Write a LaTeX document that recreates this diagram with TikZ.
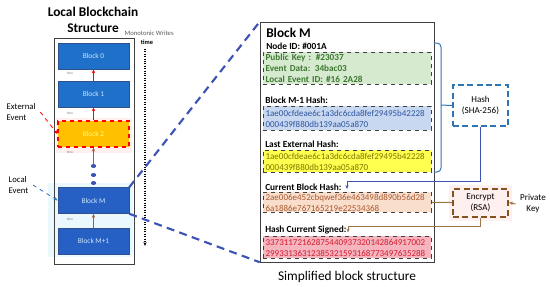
\documentclass[tikz,border=0pt]{standalone}
\usepackage{fontspec}
\setmainfont{Carlito}
\usetikzlibrary{arrows.meta,shapes.geometric}

\definecolor{blockblue}{RGB}{30,112,200}
\definecolor{blockdark}{RGB}{38,96,196}
\definecolor{blockedge}{RGB}{47,82,143}
\definecolor{blocktext}{RGB}{205,232,255}
\definecolor{gold}{RGB}{255,192,0}
\definecolor{linkblue}{RGB}{62,84,180}
\definecolor{hashblue}{RGB}{46,117,182}
\definecolor{rsabrown}{RGB}{133,82,30}
\definecolor{greenfill}{RGB}{214,234,208}
\definecolor{greentext}{RGB}{62,120,50}
\definecolor{bluefill}{RGB}{200,216,240}
\definecolor{bluetext}{RGB}{46,85,160}
\definecolor{yellowfill}{RGB}{255,255,80}
\definecolor{yellowtext}{RGB}{120,120,0}
\definecolor{peachfill}{RGB}{250,222,204}
\definecolor{peachtext}{RGB}{170,90,50}
\definecolor{pinkfill}{RGB}{245,180,190}
\definecolor{pinktext}{RGB}{210,30,50}

\begin{document}
\begin{tikzpicture}[
  x=0.75pt, y=-0.75pt,
  >={Stealth[length=3pt,width=2.4pt]},
  chainblock/.style={draw=blockedge,fill=blockblue,text=blocktext,minimum width=53.25pt,
    minimum height=19.5pt,inner sep=0pt,font=\fontsize{5.5}{6}\selectfont},
  tinytime/.style={font=\fontsize{2.6}{3}\selectfont,text=gray},
  link/.style={->,line width=0.6pt},
  field/.style={draw=black!75,dashed,line width=0.7pt,anchor=north west,inner xsep=1.6pt,
    inner ysep=0pt,text width=122.8pt,align=left,font=\fontsize{6.75}{8.25}\selectfont},
  fieldlabel/.style={anchor=west,inner sep=0pt,font=\bfseries\fontsize{7}{8}\selectfont},
  sidebox/.style={line width=1.5pt,dash pattern=on 4.5pt off 2.5pt,minimum width=41.25pt,
    align=center,font=\fontsize{6.8}{8.25}\selectfont},
  zoomline/.style={linkblue,line width=1.6pt,dash pattern=on 6pt off 4pt},
  wire/.style={line width=0.75pt}
]
\useasboundingbox (0,0) rectangle (550,286);

% ------------------------------------------------------------
% Local chain (left)
% ------------------------------------------------------------
\fill[red!6] (56,118) rectangle (132,153);
\fill[cyan!8] (48,183) rectangle (133,257);
\fill[red!6] (449,185) rectangle (512,221);

\node[font=\bfseries\fontsize{10}{12}\selectfont,align=center] (chaintitle) at (93,20)
  {Local Blockchain\\Structure};
\node[draw=black!75,minimum width=60pt,minimum height=169.5pt,inner sep=0pt] (chain) at (94,151) {};

\node[chainblock] (b0) at (93.5,56) {Block 0};
\node[chainblock] (b1) at (93.5,94) {Block 1};
\node[chainblock,fill=gold,draw=red,dashed,thick,text=yellow!45] (b2) at (93.5,134) {Block 2};
\node[chainblock,fill=blockdark] (bm) at (93.5,200.5) {Block M};
\node[chainblock,fill=blockdark] (bm1) at (93.5,241) {Block M+1};

\foreach \y [count=\i] in {166,175,183}
  \node[ellipse,fill=linkblue,minimum width=4pt,minimum height=3pt,inner sep=0pt] (dot\i) at (93.5,\y) {};

\foreach \y in {73,113,152,219}
  \node[tinytime] (tick\y) at (70,\y) {time};

\draw[link,red] (b1.north) -- (b0.south);
\draw[link,red] (b2.north) -- (b1.south);
\draw[link,peachtext] (dot1.north) -- (b2.south);
\draw[link,peachtext] (bm1.north) -- (bm.south);

% time axis
\node[font=\fontsize{5}{6}\selectfont,text=black!65,anchor=west] (mono) at (120,33) {Monotonic Writes};
\node[font=\bfseries\fontsize{4.8}{6}\selectfont] (timelbl) at (147,42) {time};
\coordinate (timeend) at (145,246);
\draw[densely dotted,line width=0.8pt,->] (timelbl.south -| timeend) -- (timeend);

% events
\node[anchor=west,align=left,font=\fontsize{6.5}{8.25}\selectfont] (extev) at (2,112) {External\\Event};
\node[anchor=west,align=left,font=\fontsize{6.5}{8.25}\selectfont] (locev) at (4,185) {Local\\Event};
\draw[red,dashed,line width=0.6pt,->] (extev.east) -- (b2.west);
\draw[hashblue,dashed,line width=0.6pt,->] (locev.east) -- (bm.west);

% ------------------------------------------------------------
% Simplified block (right)
% ------------------------------------------------------------
\node[draw=black!75,minimum width=130.5pt,minimum height=180pt,inner sep=0pt] (detail) at (347,142) {};
\draw[zoomline] (bm.north east) -- (detail.north west);
\draw[zoomline] (bm.south east) -- (detail.south west);

\node[anchor=west,inner sep=0pt,font=\bfseries\fontsize{10}{12}\selectfont] (mtitle) at (266,33) {Block M};
\node[fieldlabel] (nodeid) at (266,46) {Node ID: \#001A};
\node[field,fill=greenfill,text=greentext,minimum height=24pt,font=\bfseries\fontsize{6.9}{8.25}\selectfont]
  (pub) at (263,52) {Public Key : \#23037\\Event Data: 34bac03\\Local Event ID: \#16 2A28};

\node[fieldlabel] (prevlbl) at (265,100) {Block M-1 Hash:};
\node[field,fill=bluefill,text=bluetext,minimum height=18pt] (prev) at (263,106)
  {1ae00cfdeae6c1a3dc6cda8fef29495b42228\\000439f880db139aa05a870};

\node[fieldlabel] (extlbl) at (265,144) {Last External Hash:};
\node[field,fill=yellowfill,text=yellowtext,minimum height=16.5pt] (ext) at (263,150)
  {1ae00cfdeae6c1a3dc6cda8fef29495b42228\\000439f880db139aa05a870};

\node[fieldlabel] (curlbl) at (265,187) {Current Block Hash:};
\node[field,fill=peachfill,text=peachtext,minimum height=15pt] (cur) at (263,192)
  {2ae006e452cbqwef36e463498d890b56d28\\6a1886e767165219e22534368};

\node[fieldlabel] (signlbl) at (265,230) {Hash Current Signed:};
\node[field,fill=pinkfill,text=pinktext,minimum height=16.5pt] (sign) at (263,236)
  {33731172162875440937320142864917002\\29933136312385321593168773497635288};

\node[font=\fontsize{10}{12}\selectfont] (caption) at (347,277) {Simplified block structure};

% hash and signature
\node[sidebox,draw=hashblue,minimum height=30.75pt] (hash) at (480.5,105.5) {Hash\\(SHA-256)};
\node[sidebox,draw=rsabrown,minimum height=21pt] (rsa) at (480.5,202.5) {Encrypt\\(RSA)};
\node[align=center,font=\fontsize{6.8}{8.25}\selectfont] (pkey) at (533,204) {Private\\Key};

\coordinate (bracetop) at (434,43);
\coordinate (bracetip) at (441,105);
\coordinate (bracebot) at (434,172);
\draw[hashblue,wire,rounded corners=3pt] (bracetop) -| (bracetip) |- (bracebot);
\draw[hashblue,wire] (bracetip) -- (hash.west);

\coordinate (curbend) at (347,181);
\coordinate (curin) at (347,189);
\draw[linkblue,wire,->] (hash.south) |- (curbend) -- (curin);

\coordinate (signbend) at (348,226);
\coordinate (signin) at (348,232.5);
\draw[rsabrown!80,wire] (cur.east) -- (rsa.west);
\draw[rsabrown!80,wire,->] (rsa.south) |- (signbend) -- (signin);
\draw[rsabrown!80,wire,->] (pkey.west) -- (rsa.east);

\end{tikzpicture}
\end{document}
